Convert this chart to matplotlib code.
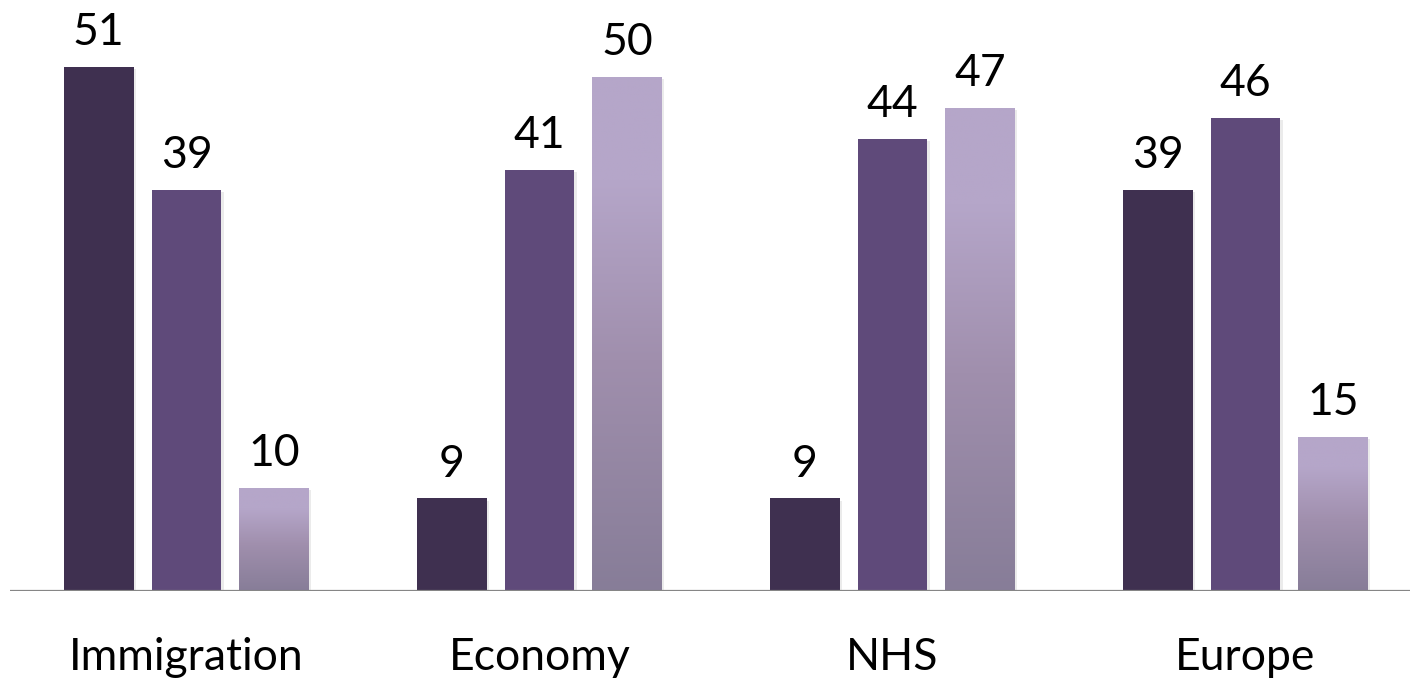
import numpy as np
import matplotlib
matplotlib.use("Agg")
import matplotlib.pyplot as plt
from matplotlib.colors import LinearSegmentedColormap
import matplotlib.patheffects as pe

categories = ["Immigration", "Economy", "NHS", "Europe"]
series_a = [51, 9, 9, 39]
series_b = [39, 41, 44, 46]
series_c = [10, 50, 47, 15]

dark = "#3F3050"
mid = "#5F4A7A"
grad = LinearSegmentedColormap.from_list(
    "grad", [(0.0, "#877D98"), (0.45, "#A08FAD"), (0.8, "#B5A6C9"), (1.0, "#B5A6C9")])

fig = plt.figure(figsize=(14.1, 6.8), dpi=100)
ax = fig.add_axes([10 / 1410, 89 / 680, 1412 / 1410, 591 / 680])
ax.set_xlim(-0.5, 3.5)
ax.set_ylim(0, 57.5)

x = np.arange(len(categories))
w = 0.198
off = 0.249
shadow = [pe.SimplePatchShadow(offset=(1.5, -1.5), shadow_rgbFace="#000000", alpha=0.08), pe.Normal()]

bars_a = ax.bar(x - off, series_a, w, color=dark, zorder=2, path_effects=shadow)
bars_b = ax.bar(x, series_b, w, color=mid, zorder=2, path_effects=shadow)
bars_c = ax.bar(x + off, series_c, w, color="none", zorder=2, path_effects=shadow)

# vertical gradient fill for the third series
gradient = np.linspace(0, 1, 256).reshape(-1, 1)
for b in bars_c:
    x0, y0 = b.get_x(), b.get_y()
    im = ax.imshow(gradient, cmap=grad, origin="lower", aspect="auto",
                   extent=[x0, x0 + b.get_width(), y0, y0 + b.get_height()], zorder=2.5)
    im.set_clip_path(b)
ax.set_xlim(-0.5, 3.5)
ax.set_ylim(0, 57.5)

font = "Lato"
for bars in (bars_a, bars_b, bars_c):
    for b in bars:
        ax.annotate(f"{b.get_height():g}", (b.get_x() + b.get_width() / 2, b.get_height()),
                    xytext=(0, 10), textcoords="offset points", ha="center", va="bottom",
                    fontsize=32, family=font, color="#000000")

ax.axhline(0, color="#868686", lw=1.6, zorder=3)
for s in ax.spines.values():
    s.set_visible(False)
ax.set_yticks([])
ax.set_xticks(x)
ax.set_xticklabels(categories, fontsize=32, family=font)
ax.tick_params(axis="x", length=0, pad=33)

fig.savefig("out.png", dpi=100)
